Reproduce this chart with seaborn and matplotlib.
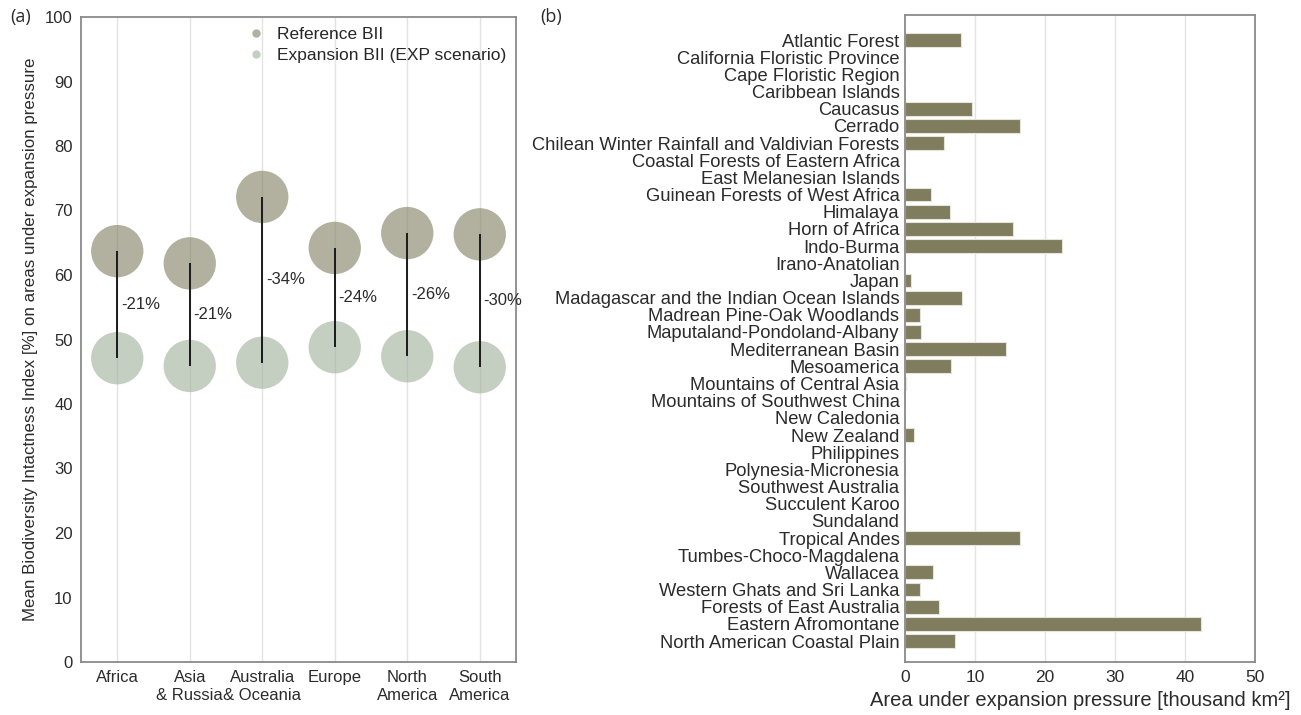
import numpy as np
import pandas as pd
import matplotlib
matplotlib.use('Agg')
import matplotlib.pyplot as plt
from matplotlib.lines import Line2D
import seaborn as sns

# --- panel (a): mean BII per continent ---
continents = ['Africa', 'Asia & Russia', 'Australia & Oceania', 'Europe', 'North America', 'South America']
continent_labels = ['Africa', 'Asia\n& Russia', 'Australia\n& Oceania', 'Europe', 'North\nAmerica', 'South\nAmerica']
bii_reference = [63.7, 61.8, 72.1, 64.2, 66.5, 66.3]
bii_expansion = [47.1, 45.9, 46.4, 48.8, 47.4, 45.7]
change_labels = ['-21%', '-21%', '-34%', '-24%', '-26%', '-30%']

# --- panel (b): area under expansion pressure per hotspot ---
hotspots = [
    'Atlantic Forest', 'California Floristic Province', 'Cape Floristic Region', 'Caribbean Islands',
    'Caucasus', 'Cerrado', 'Chilean Winter Rainfall and Valdivian Forests', 'Coastal Forests of Eastern Africa',
    'East Melanesian Islands', 'Guinean Forests of West Africa', 'Himalaya', 'Horn of Africa', 'Indo-Burma',
    'Irano-Anatolian', 'Japan', 'Madagascar and the Indian Ocean Islands', 'Madrean Pine-Oak Woodlands',
    'Maputaland-Pondoland-Albany', 'Mediterranean Basin', 'Mesoamerica', 'Mountains of Central Asia',
    'Mountains of Southwest China', 'New Caledonia', 'New Zealand', 'Philippines', 'Polynesia-Micronesia',
    'Southwest Australia', 'Succulent Karoo', 'Sundaland', 'Tropical Andes', 'Tumbes-Choco-Magdalena',
    'Wallacea', 'Western Ghats and Sri Lanka', 'Forests of East Australia', 'Eastern Afromontane',
    'North American Coastal Plain',
]
area_thousand_km2 = [
    8.0, 0.0, 0.0, 0.0,
    9.5, 16.4, 5.5, 0.0,
    0.0, 3.7, 6.4, 15.4, 22.4,
    0.0, 0.8, 8.1, 2.1,
    2.3, 14.4, 6.6, 0.1,
    0.0, 0.0, 1.3, 0.0, 0.0,
    0.0, 0.0, 0.0, 16.4, 0.0,
    4.0, 2.1, 4.9, 42.3,
    7.2,
]

REF_COLOR = '#807c5e'
EXP_COLOR = '#9db09a'
TEXT = '#2b2b2b'
SPINE = '#8a8a8a'

sns.set_style('white')
plt.rcParams['font.family'] = ['Liberation Sans', 'DejaVu Sans']

fig = plt.figure(figsize=(13.01, 7.15), dpi=100)
ax1 = fig.add_axes([81 / 1301, 53 / 715, 435 / 1301, 645 / 715])
ax2 = fig.add_axes([905 / 1301, 53 / 715, 350 / 1301, 647 / 715])

# panel (a)
df_a = pd.DataFrame({'continent': continents, 'ref': bii_reference, 'exp': bii_expansion})
for i, row in df_a.iterrows():
    ax1.axvline(i, color='#e3e3e3', lw=1, zorder=0)
sns.scatterplot(data=df_a, x='continent', y='ref', color=REF_COLOR, alpha=0.6, s=1420,
                edgecolor='none', ax=ax1, zorder=2)
sns.scatterplot(data=df_a, x='continent', y='exp', color=EXP_COLOR, alpha=0.6, s=1420,
                edgecolor='none', ax=ax1, zorder=2)
ax1.vlines(range(len(continents)), df_a['exp'], df_a['ref'], color='#1a1a1a', lw=1.4, zorder=3)
for i, row in df_a.iterrows():
    mid = (row['ref'] + row['exp']) / 2
    ax1.text(i + 0.05, mid, change_labels[i], fontsize=12, color=TEXT, va='center', ha='left', zorder=4)

ax1.set_xlim(-0.5, len(continents) - 0.5)
ax1.set_ylim(0, 100)
ax1.set_yticks(range(0, 101, 10))
ax1.set_xticks(range(len(continents)))
ax1.set_xticklabels(continent_labels)
ax1.set_xlabel('')
ax1.set_ylabel('Mean Biodiversity Intactness Index [%] on areas under expansion pressure',
               fontsize=12.2, color=TEXT, labelpad=5)
ax1.tick_params(axis='both', labelsize=12, colors=TEXT, length=0, pad=6)

handles = [
    Line2D([], [], marker='o', ls='', color=REF_COLOR, alpha=0.6, markersize=6, markeredgewidth=0),
    Line2D([], [], marker='o', ls='', color=EXP_COLOR, alpha=0.6, markersize=6, markeredgewidth=0),
]
ax1.legend(handles, ['Reference BII', 'Expansion BII (EXP scenario)'], loc='upper right',
           frameon=False, fontsize=12.5, handletextpad=0.2, borderaxespad=0.15, labelspacing=0.35,
           bbox_to_anchor=(1.0, 1.0))

# panel (b)
df_b = pd.DataFrame({'hotspot': hotspots, 'area': area_thousand_km2})
for v in [10, 20, 30, 40]:
    ax2.axvline(v, color='#e3e3e3', lw=1, zorder=0)
sns.barplot(data=df_b, x='area', y='hotspot', orient='h', color=REF_COLOR, width=0.8,
            saturation=1, edgecolor='#e6e4da', linewidth=0.8, ax=ax2, zorder=2)
ax2.set_xlim(0, 50)
ax2.set_ylim(len(hotspots) - 1 + 1.22, -1.46)
ax2.set_xticks(range(0, 51, 10))
ax2.set_xlabel('Area under expansion pressure [thousand km\u00b2]', fontsize=14.5, color=TEXT, labelpad=4)
ax2.set_ylabel('')
ax2.tick_params(axis='x', labelsize=12.5, colors=TEXT, length=0, pad=6)
ax2.tick_params(axis='y', labelsize=13.2, colors=TEXT, length=0, pad=4)

for ax in (ax1, ax2):
    for sp in ax.spines.values():
        sp.set_visible(True)
        sp.set_color(SPINE)
        sp.set_linewidth(1.3)

fig.text(10 / 1301, 1 - 17 / 715, '(a)', fontsize=13, color=TEXT, va='center', ha='left',
         family=['Open Sans', 'DejaVu Sans'])
fig.text(540 / 1301, 1 - 17 / 715, '(b)', fontsize=13, color=TEXT, va='center', ha='left',
         family=['Open Sans', 'DejaVu Sans'])

fig.savefig('out.png', dpi=100)
